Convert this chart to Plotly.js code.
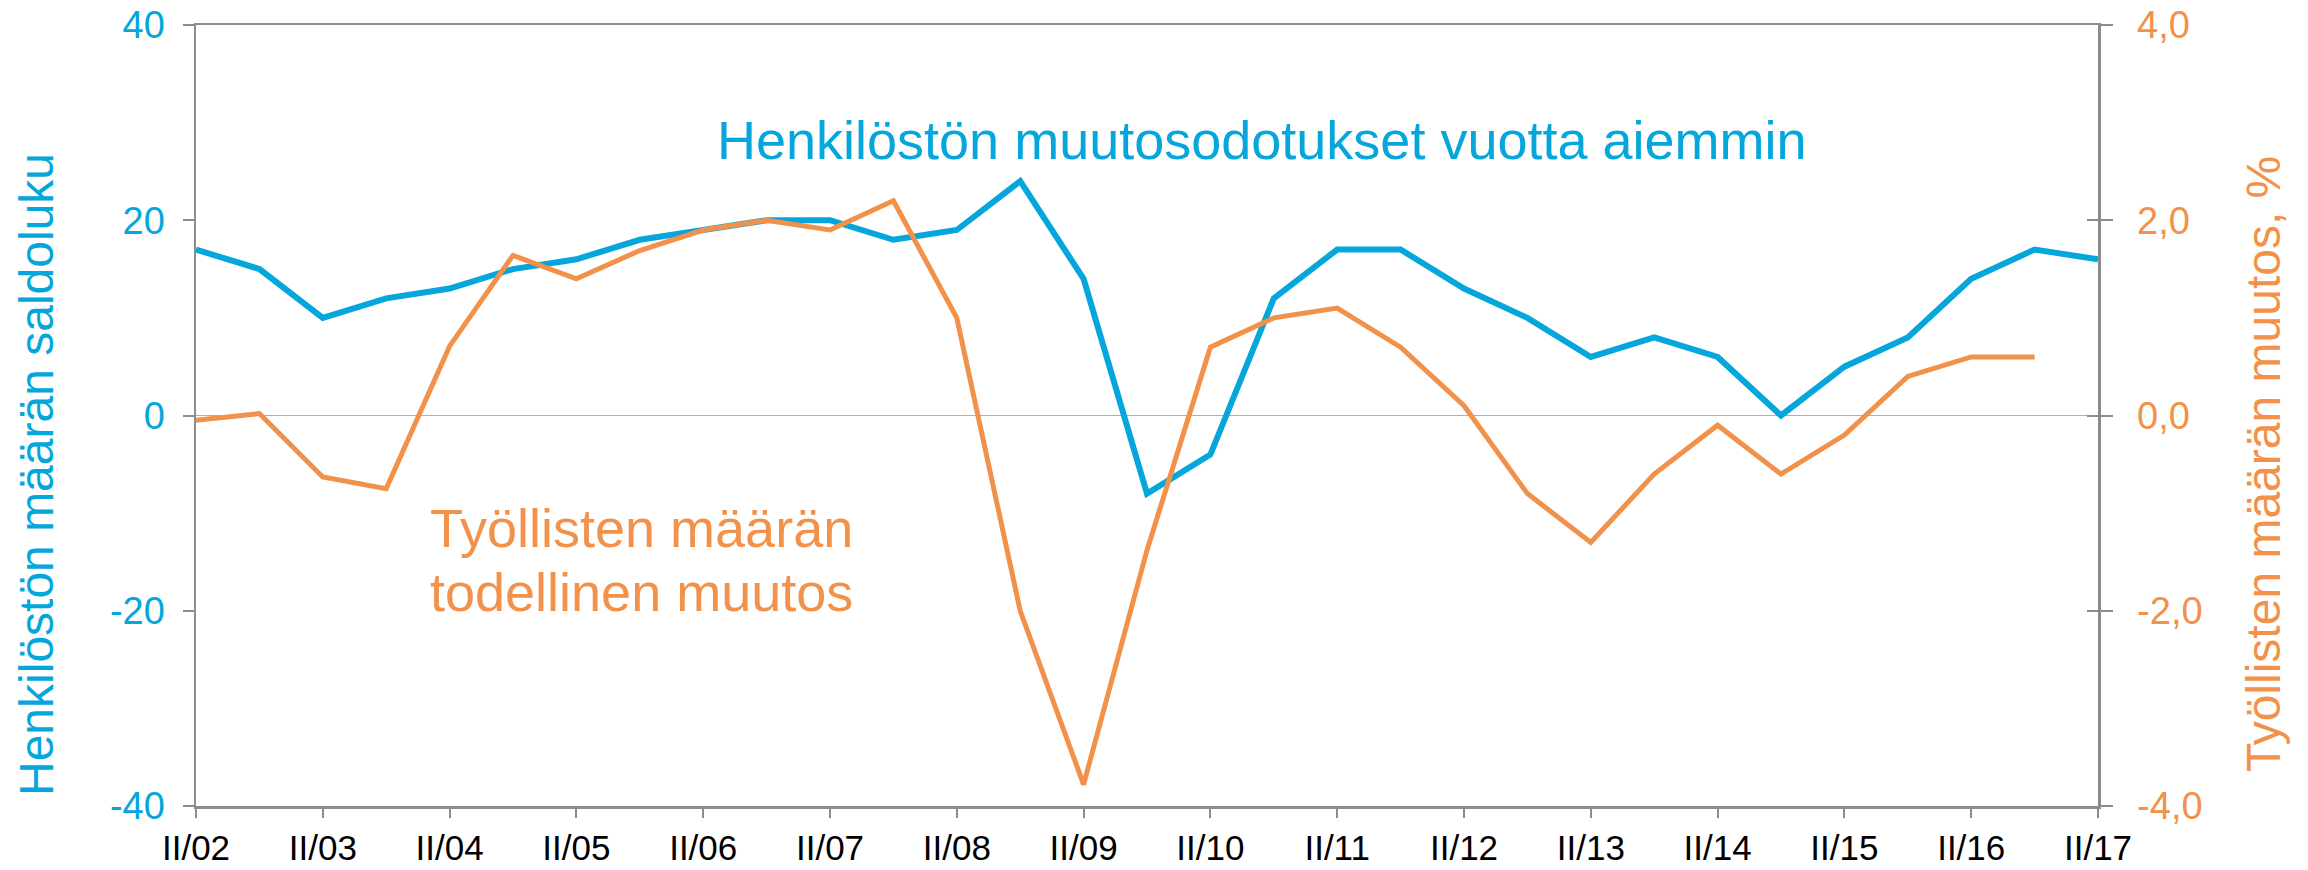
<!DOCTYPE html>
<html>
<head>
<meta charset="utf-8">
<script src="https://cdn.plot.ly/plotly-3.0.1.min.js"></script>
<style>html,body{margin:0;padding:0;background:#fff}#chart{width:2308px;height:870px}</style>
</head>
<body>
<div id="chart"></div>
<script>
// Half-year periods (II and IV quarters)
const periods = ["II/02","IV/02","II/03","IV/03","II/04","IV/04","II/05","IV/05","II/06","IV/06",
  "II/07","IV/07","II/08","IV/08","II/09","IV/09","II/10","IV/10","II/11","IV/11",
  "II/12","IV/12","II/13","IV/13","II/14","IV/14","II/15","IV/15","II/16","IV/16","II/17"];

// Henkilöstön muutosodotukset vuotta aiemmin (saldoluku, left axis)
const expectations = [17,15,10,12,13,15,16,18,19,20,
  20,18,19,24,14,-8,-4,12,17,17,
  13,10,6,8,6,0,5,8,14,17,16];

// Työllisten määrän todellinen muutos, % (right axis)
const employment = [-0.05,0.02,-0.63,-0.75,0.71,1.64,1.4,1.69,1.9,2.0,
  1.9,2.2,1.0,-2.0,-3.78,-1.38,0.7,1.0,1.1,0.7,
  0.1,-0.8,-1.3,-0.6,-0.1,-0.6,-0.2,0.4,0.6,0.6];

const xTickVals = ["II/02","II/03","II/04","II/05","II/06","II/07","II/08","II/09","II/10",
  "II/11","II/12","II/13","II/14","II/15","II/16","II/17"];
const leftTickVals = [-40,-20,0,20,40];
const leftTickText = ["-40","-20","0","20","40"];
const rightTickVals = [-4,-2,0,2,4];
const rightTickText = ["-4,0","-2,0","0,0","2,0","4,0"];

const BLUE = "#04a6db";
const ORANGE = "#f2914a";
const AXIS = "#8c8c8c";
const FONT = "Liberation Sans, Arial, sans-serif";

const traces = [
  {x: periods, y: expectations, type: "scatter", mode: "lines",
   line: {color: BLUE, width: 6}, yaxis: "y", hoverinfo: "skip"},
  {x: periods.slice(0, employment.length), y: employment, type: "scatter", mode: "lines",
   line: {color: ORANGE, width: 5}, yaxis: "y2", hoverinfo: "skip"},
  {x: [], y: [], type: "scatter", mode: "lines", yaxis: "y3", hoverinfo: "skip"}
];

const layout = {
  width: 2308, height: 870,
  margin: {l: 196, r: 210, t: 25, b: 64},
  paper_bgcolor: "#fff", plot_bgcolor: "#fff",
  showlegend: false,
  font: {family: FONT},
  xaxis: {
    type: "category", range: [0, 30],
    tickvals: xTickVals, ticktext: xTickVals,
    ticks: "outside", ticklen: 9, tickwidth: 2, tickcolor: AXIS,
    showline: true, linecolor: AXIS, linewidth: 2.5, mirror: true,
    showgrid: false, zeroline: false,
    tickfont: {family: FONT, size: 35, color: "#000"},
    ticklabelstandoff: 0
  },
  yaxis: {
    range: [-40, 40], tickvals: leftTickVals, ticktext: leftTickText,
    ticks: "outside", ticklen: 11, tickwidth: 2, tickcolor: AXIS,
    showline: true, linecolor: AXIS, linewidth: 2.5,
    showgrid: false, zeroline: true, zerolinecolor: "#b0b0b0", zerolinewidth: 1.5,
    tickfont: {family: FONT, size: 38, color: BLUE},
    ticklabelstandoff: 10
  },
  yaxis2: {
    overlaying: "y", side: "right",
    range: [-4, 4], tickvals: rightTickVals, ticktext: rightTickText,
    ticks: "outside", ticklen: 12, tickwidth: 2, tickcolor: AXIS,
    showline: true, linecolor: AXIS, linewidth: 2.5,
    showgrid: false, zeroline: false,
    tickfont: {family: FONT, size: 38, color: ORANGE},
    ticklabelstandoff: 17
  },
  yaxis3: {
    overlaying: "y", side: "right",
    range: [-4, 4], tickvals: rightTickVals,
    ticks: "inside", ticklen: 11, tickwidth: 2, tickcolor: AXIS,
    showline: false, showticklabels: false,
    showgrid: false, zeroline: false
  },
  annotations: [
    {text: "Henkilöstön määrän saldoluku", xref: "paper", yref: "paper",
     x: (36 - 196) / 1902, y: (806 - 475) / 781, xanchor: "center", yanchor: "middle",
     textangle: -90, showarrow: false, font: {family: FONT, size: 48, color: BLUE}},
    {text: "Työllisten määrän muutos, %", xref: "paper", yref: "paper",
     x: (2263 - 196) / 1902, y: (806 - 464) / 781, xanchor: "center", yanchor: "middle",
     textangle: -90, showarrow: false, font: {family: FONT, size: 48, color: ORANGE}},
    {text: "Henkilöstön muutosodotukset vuotta aiemmin", xref: "paper", yref: "paper",
     x: (715 - 196) / 1902, y: (806 - 140) / 781, xanchor: "left", yanchor: "middle",
     showarrow: false, font: {family: FONT, size: 54, color: BLUE}},
    {text: "Työllisten määrän", xref: "paper", yref: "paper",
     x: (428 - 196) / 1902, y: (806 - 528) / 781, xanchor: "left", yanchor: "middle",
     showarrow: false, font: {family: FONT, size: 54, color: ORANGE}},
    {text: "todellinen muutos", xref: "paper", yref: "paper",
     x: (428 - 196) / 1902, y: (806 - 592) / 781, xanchor: "left", yanchor: "middle",
     showarrow: false, font: {family: FONT, size: 54, color: ORANGE}}
  ]
};

Plotly.newPlot("chart", traces, layout, {staticPlot: true, displayModeBar: false});
</script>
</body>
</html>
